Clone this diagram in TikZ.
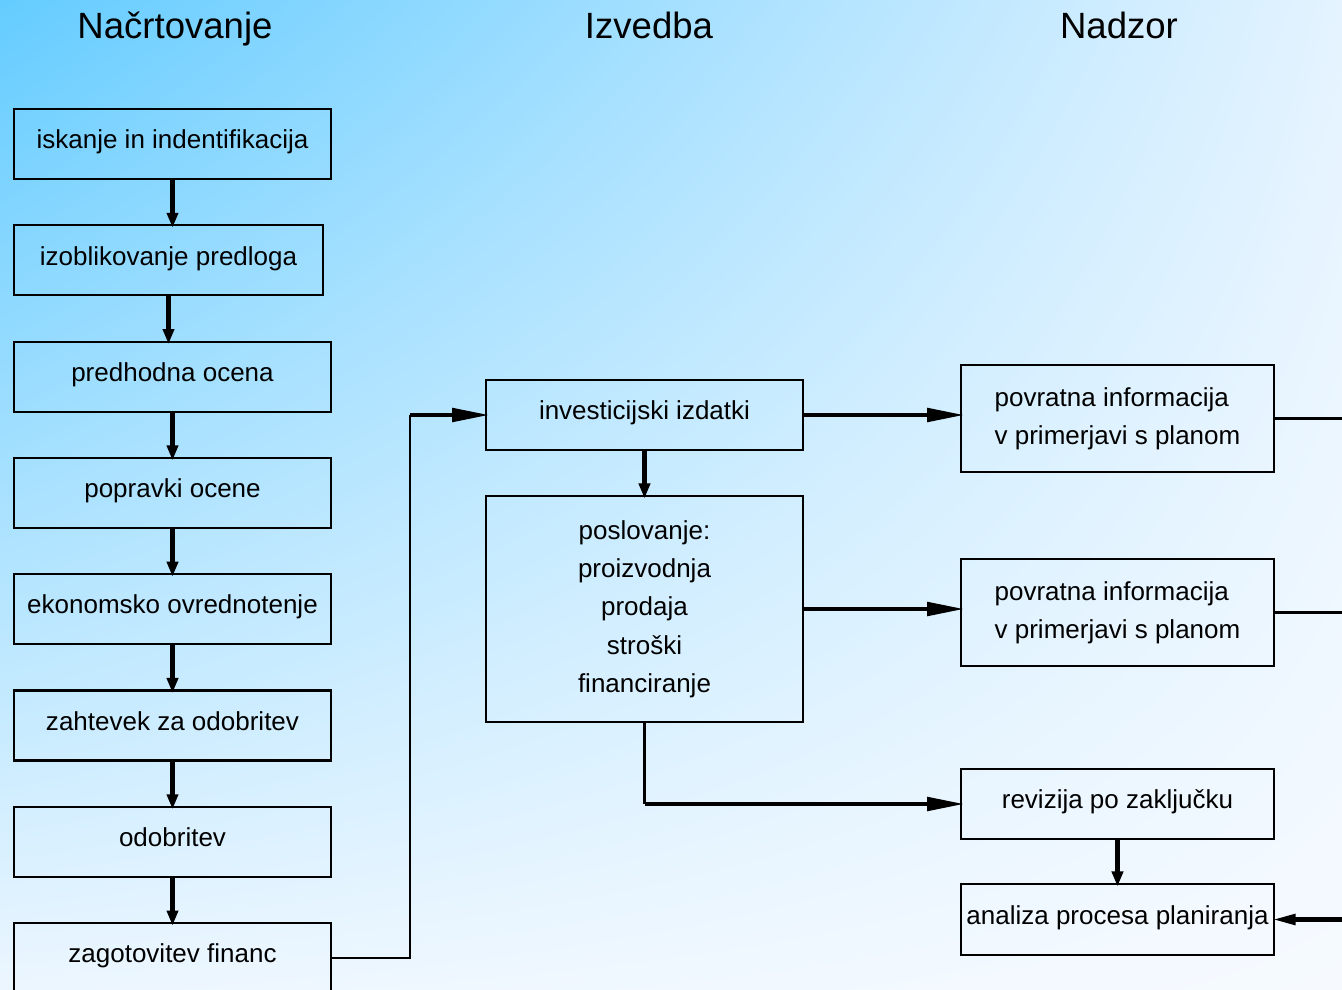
\documentclass[tikz,border=0pt]{standalone}
\usepackage{fontspec}
\setmainfont{Liberation Sans}
\usetikzlibrary{positioning, arrows.meta, shadings}

\definecolor{bgblue}{RGB}{100,204,255}
\definecolor{bgpaleA}{RGB}{228,243,255}
\definecolor{bgpaleB}{RGB}{236,246,255}
\definecolor{bgwhite}{RGB}{246,250,255}

\begin{document}
\begin{tikzpicture}[node distance = 1.163cm, on grid,
    box/.style={draw, line width=0.6pt, minimum width=3.17cm, minimum height=0.70cm,
        inner sep=0pt, font=\fontsize{7.4}{10.9}\selectfont},
    single/.style={box, text height=5.3pt, text depth=2.6pt},
    head/.style={anchor=base, font=\fontsize{10.4}{12}\selectfont},
    down/.style={line width=1.4pt, shorten >=-1pt, -{Triangle[length=1.5mm,width=1.1mm]}},
    flow/.style={line width=1.4pt, shorten >=-1.5pt, -{Triangle[length=3.8mm,width=1.3mm]}},
    link/.style={line width=0.6pt}]

    % background
    \shade[upper left=bgblue, upper right=bgpaleA, lower left=bgpaleB, lower right=bgwhite]
        (0,0) rectangle (13.42,-9.90);
    \useasboundingbox (0,0) rectangle (13.42,-9.90);

    % column heads
    \node[head] (plan) at (1.75,-0.39) {Načrtovanje};
    \node[head] (exec) at (6.49,-0.39) {Izvedba};
    \node[head] (ctrl) at (11.19,-0.39) {Nadzor};

    % planning column
    \node[single] (search) at (1.725,-1.44) {iskanje in indentifikacija};
    \node[single, below=of search, xshift=-0.04cm, minimum width=3.09cm] (proposal) {izoblikovanje predloga};
    \node[single, below=2.326cm of search] (estimate) {predhodna ocena};
    \node[single, below=of estimate] (revise) {popravki ocene};
    \node[single, below=of revise] (econ) {ekonomsko ovrednotenje};
    \node[single, below=of econ] (request) {zahtevek za odobritev};
    \node[single, below=of request] (approve) {odobritev};
    \node[single, below=of approve] (funds) {zagotovitev financ};

    % execution column
    \node[single] (capex) at (6.445,-4.15) {investicijski izdatki};
    \node[box, minimum height=2.26cm, align=center] (ops) at (6.445,-6.09)
        {poslovanje:\\proizvodnja\\prodaja\\stroški\\financiranje};

    % control column
    \node[box, minimum width=3.13cm, minimum height=1.07cm, align=left] (fb1) at (11.175,-4.185)
        {povratna informacija\\v primerjavi s planom};
    \node[box, minimum width=3.13cm, minimum height=1.07cm, align=left] (fb2) at (11.175,-6.125)
        {povratna informacija\\v primerjavi s planom};
    \node[single, minimum width=3.13cm] (audit) at (11.175,-8.04) {revizija po zaključku};
    \node[single, minimum width=3.13cm, minimum height=0.71cm] (review) at (11.175,-9.195) {analiza procesa planiranja};

    \coordinate (edge) at (13.42,0);
    \coordinate (k1) at ([xshift=-0.75cm]capex.west);
    \coordinate (k2) at (ops.south |- audit.west);

    \foreach \a/\b in {search/proposal, proposal/estimate, estimate/revise, revise/econ,
                       econ/request, request/approve, approve/funds, capex/ops, audit/review}
        \draw[down] (\a.south) -- (\a.south |- \b.north);

    \draw[link] (funds.east) -| (k1);
    \draw[flow] (k1) -- (capex.west);
    \draw[flow] (capex.east) -- (capex.east -| fb1.west);
    \draw[flow] (ops.east) -- (ops.east -| fb2.west);
    \draw[link] (ops.south) -- (k2);
    \draw[flow] (k2) -- (audit.west);
    \draw[link] (fb1.east) -- (fb1.east -| edge);
    \draw[link] (fb2.east) -- (fb2.east -| edge);
    \draw[line width=1.4pt, shorten >=-1pt, -{Triangle[length=2.4mm,width=1mm]}] (review.east -| edge) -- (review.east);
\end{tikzpicture}
\end{document}
